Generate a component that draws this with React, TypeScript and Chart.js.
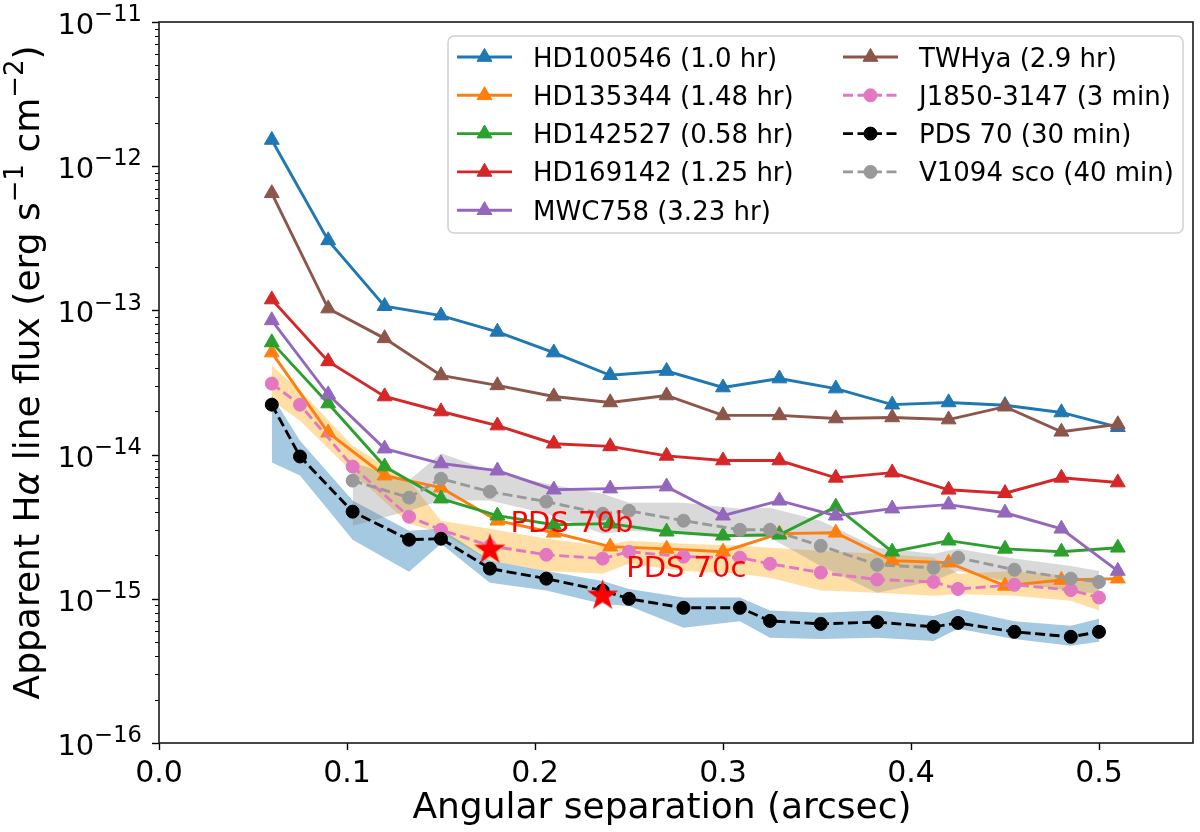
import { useEffect, useRef } from "react"
import { Chart, registerables } from "chart.js"

Chart.register(...registerables)

// Triangle-marked disks share the same separations (arcsec)
const sepDisk = [0.06, 0.09, 0.12, 0.15, 0.18, 0.21, 0.24, 0.27, 0.3, 0.33, 0.36, 0.39, 0.42, 0.45, 0.48, 0.51]
const fluxHD100546 = [1.52e-12, 3.06e-13, 1.07e-13, 9.2e-14, 7.1e-14, 5.1e-14, 3.55e-14, 3.8e-14, 2.92e-14, 3.37e-14, 2.87e-14, 2.22e-14, 2.3e-14, 2.2e-14, 1.96e-14, 1.55e-14]
const fluxHD135344 = [5.1e-14, 1.42e-14, 7.15e-15, 5.9e-15, 3.48e-15, 2.87e-15, 2.3e-15, 2.22e-15, 2.12e-15, 2.83e-15, 2.87e-15, 1.84e-15, 1.78e-15, 1.23e-15, 1.35e-15, 1.38e-15]
const fluxHD142527 = [6.0e-14, 2.26e-14, 8.26e-15, 4.95e-15, 3.77e-15, 3.26e-15, 3.32e-15, 2.92e-15, 2.74e-15, 2.78e-15, 4.35e-15, 2.12e-15, 2.53e-15, 2.22e-15, 2.12e-15, 2.26e-15]
const fluxHD169142 = [1.19e-13, 4.43e-14, 2.53e-14, 1.99e-14, 1.59e-14, 1.19e-14, 1.14e-14, 9.8e-15, 9.1e-15, 9.1e-15, 6.9e-15, 7.5e-15, 5.7e-15, 5.4e-15, 6.9e-15, 6.4e-15]
const fluxMWC758 = [8.53e-14, 2.61e-14, 1.1e-14, 8.67e-15, 7.74e-15, 5.71e-15, 5.81e-15, 6.0e-15, 3.77e-15, 4.79e-15, 3.77e-15, 4.22e-15, 4.5e-15, 3.95e-15, 3.06e-15, 1.56e-15]
const fluxTWHya = [6.49e-13, 1.03e-13, 6.4e-14, 3.54e-14, 3.02e-14, 2.53e-14, 2.3e-14, 2.57e-14, 1.87e-14, 1.87e-14, 1.78e-14, 1.81e-14, 1.75e-14, 2.15e-14, 1.44e-14, 1.62e-14]

// Circle-marked (short exposure) targets
const sepSdi = [0.06, 0.075, 0.103, 0.133, 0.15, 0.176, 0.206, 0.236, 0.25, 0.279, 0.309, 0.325, 0.352, 0.382, 0.412, 0.425, 0.455, 0.485, 0.5]
const fluxJ1850 = [3.11e-14, 2.22e-14, 8.26e-15, 3.71e-15, 3.01e-15, 2.33e-15, 2.02e-15, 1.9e-15, 2.12e-15, 1.96e-15, 1.93e-15, 1.75e-15, 1.52e-15, 1.36e-15, 1.31e-15, 1.17e-15, 1.25e-15, 1.15e-15, 1.02e-15]
const fluxJ1850Hi = [4.15e-14, 2.78e-14, 1.15e-14, 6.6e-15, 3.48e-15, 3.06e-15, 2.61e-15, 2.33e-15, 2.53e-15, 2.41e-15, 2.33e-15, 2.26e-15, 2.15e-15, 2.05e-15, 1.93e-15, 1.49e-15, 1.56e-15, 1.44e-15, 1.23e-15]
const fluxJ1850Lo = [2.37e-14, 1.72e-14, 7.5e-15, 3.32e-15, 2.87e-15, 1.84e-15, 1.56e-15, 1.49e-15, 1.75e-15, 1.56e-15, 1.49e-15, 1.4e-15, 1.14e-15, 1.1e-15, 1.05e-15, 1.08e-15, 1.05e-15, 9.7e-16, 8.3e-16]
const fluxPDS70 = [2.22e-14, 9.7e-15, 4.02e-15, 2.57e-15, 2.61e-15, 1.62e-15, 1.38e-15, 1.14e-15, 1.0e-15, 8.66e-16, 8.66e-16, 7.03e-16, 6.7e-16, 6.9e-16, 6.39e-16, 6.8e-16, 5.9e-16, 5.45e-16, 5.9e-16]
const fluxPDS70Hi = [2.57e-14, 1.25e-14, 4.8e-15, 2.97e-15, 3.06e-15, 1.84e-15, 1.56e-15, 1.33e-15, 1.17e-15, 1.02e-15, 1.02e-15, 8.3e-16, 8.0e-16, 8.3e-16, 7.6e-16, 8.5e-16, 7.0e-16, 6.5e-16, 7.26e-16]
const fluxPDS70Lo = [8.8e-15, 7.15e-15, 2.57e-15, 1.54e-15, 2.41e-15, 1.29e-15, 1.14e-15, 9.2e-16, 8.9e-16, 6.3e-16, 7.0e-16, 5.36e-16, 5.27e-16, 5.36e-16, 5.1e-16, 6.2e-16, 5.27e-16, 4.72e-16, 5.03e-16]
const sepV1094 = [0.103, 0.133, 0.15, 0.176, 0.206, 0.236, 0.25, 0.279, 0.309, 0.325, 0.352, 0.382, 0.412, 0.425, 0.455, 0.485, 0.5]
const fluxV1094 = [6.6e-15, 5.03e-15, 6.8e-15, 5.53e-15, 4.72e-15, 3.89e-15, 4.08e-15, 3.48e-15, 3.01e-15, 3.01e-15, 2.33e-15, 1.72e-15, 1.64e-15, 1.93e-15, 1.59e-15, 1.38e-15, 1.31e-15]
const fluxV1094Hi = [8.8e-15, 6.6e-15, 1.02e-14, 7.74e-15, 6.29e-15, 5.36e-15, 4.64e-15, 4.64e-15, 4.22e-15, 4.28e-15, 3.48e-15, 2.26e-15, 2.05e-15, 2.22e-15, 1.9e-15, 1.69e-15, 1.56e-15]
const fluxV1094Lo = [3.21e-15, 4.08e-15, 4.8e-15, 4.8e-15, 3.89e-15, 2.83e-15, 2.97e-15, 2.83e-15, 2.74e-15, 2.65e-15, 1.69e-15, 1.1e-15, 1.33e-15, 1.56e-15, 1.29e-15, 1.14e-15, 1.08e-15]

// PDS 70 planets
const planetNames = ["PDS 70b", "PDS 70c"]
const planetSep = [0.176, 0.236]
const planetFlux = [2.19e-15, 1.05e-15]

const xTickValues = [0, 0.1, 0.2, 0.3, 0.4, 0.5]
const yDecades = [-16, -15, -14, -13, -12, -11]

const FONT = '"DejaVu Sans", sans-serif'

type Marker = "triangle" | "circle"

interface Series {
  label: string
  sep: number[]
  flux: number[]
  color: string
  marker: Marker
  dashed: boolean
}

const series: Series[] = [
  { label: "HD100546 (1.0 hr)", sep: sepDisk, flux: fluxHD100546, color: "#1f77b4", marker: "triangle", dashed: false },
  { label: "HD135344 (1.48 hr)", sep: sepDisk, flux: fluxHD135344, color: "#ff7f0e", marker: "triangle", dashed: false },
  { label: "HD142527 (0.58 hr)", sep: sepDisk, flux: fluxHD142527, color: "#2ca02c", marker: "triangle", dashed: false },
  { label: "HD169142 (1.25 hr)", sep: sepDisk, flux: fluxHD169142, color: "#d62728", marker: "triangle", dashed: false },
  { label: "MWC758 (3.23 hr)", sep: sepDisk, flux: fluxMWC758, color: "#9467bd", marker: "triangle", dashed: false },
  { label: "TWHya (2.9 hr)", sep: sepDisk, flux: fluxTWHya, color: "#8c564b", marker: "triangle", dashed: false },
  { label: "J1850-3147 (3 min)", sep: sepSdi, flux: fluxJ1850, color: "#e377c2", marker: "circle", dashed: true },
  { label: "PDS 70 (30 min)", sep: sepSdi, flux: fluxPDS70, color: "#000000", marker: "circle", dashed: true },
  { label: "V1094 sco (40 min)", sep: sepV1094, flux: fluxV1094, color: "#999999", marker: "circle", dashed: true },
]

const bands = [
  { sep: sepSdi, hi: fluxJ1850Hi, lo: fluxJ1850Lo, color: "rgba(255,170,20,0.38)" },
  { sep: sepSdi, hi: fluxPDS70Hi, lo: fluxPDS70Lo, color: "rgba(31,119,180,0.4)" },
  { sep: sepV1094, hi: fluxV1094Hi, lo: fluxV1094Lo, color: "rgba(128,128,128,0.3)" },
]

const LINE_W = 2.9
const DASH = [10, 4.5]
const TRI_R = 8.6
const CIRC_R = 6.5

const toPoints = (xs: number[], ys: number[]) => xs.map((x, i) => ({ x, y: ys[i] }))

function makeStar(R: number, color: string) {
  const c = document.createElement("canvas")
  const s = Math.ceil(R * 2 + 2)
  c.width = s
  c.height = s
  const g = c.getContext("2d")!
  g.fillStyle = color
  g.beginPath()
  for (let i = 0; i < 10; i++) {
    const r = i % 2 === 0 ? R : R * 0.382
    const a = -Math.PI / 2 + (i * Math.PI) / 5
    const px = s / 2 + r * Math.cos(a)
    const py = s / 2 + r * Math.sin(a)
    if (i === 0) g.moveTo(px, py)
    else g.lineTo(px, py)
  }
  g.closePath()
  g.fill()
  return c
}

type Run = { t: string; sup?: boolean; it?: boolean }

function setFont(ctx: CanvasRenderingContext2D, run: Run, size: number, supScale: number) {
  const s = run.sup ? size * supScale : size
  ctx.font = `${run.it ? "italic " : ""}${s}px ${FONT}`
}

function drawRuns(
  ctx: CanvasRenderingContext2D,
  runs: Run[],
  x: number,
  y: number,
  size: number,
  align: "left" | "center" | "right",
  supScale = 0.72
) {
  let total = 0
  runs.forEach((r) => {
    setFont(ctx, r, size, supScale)
    total += ctx.measureText(r.t).width
  })
  let cx = align === "left" ? x : align === "center" ? x - total / 2 : x - total
  ctx.textAlign = "left"
  ctx.textBaseline = "alphabetic"
  runs.forEach((r) => {
    setFont(ctx, r, size, supScale)
    ctx.fillText(r.t, cx, r.sup ? y - size * 0.44 : y)
    cx += ctx.measureText(r.t).width
  })
}

function drawMarker(ctx: CanvasRenderingContext2D, kind: Marker, x: number, y: number, color: string) {
  ctx.fillStyle = color
  ctx.strokeStyle = color
  ctx.lineWidth = 1
  ctx.setLineDash([])
  ctx.beginPath()
  if (kind === "triangle") {
    for (let i = 0; i < 3; i++) {
      const a = (i * 2 * Math.PI) / 3
      const px = x + Math.sin(a) * TRI_R
      const py = y - Math.cos(a) * TRI_R
      if (i === 0) ctx.moveTo(px, py)
      else ctx.lineTo(px, py)
    }
    ctx.closePath()
  } else {
    ctx.arc(x, y, CIRC_R, 0, Math.PI * 2)
  }
  ctx.fill()
  ctx.stroke()
}

const decorPlugin = {
  id: "decor",
  afterDraw(chart: Chart) {
    const { ctx, chartArea: a } = chart
    const xs = chart.scales.x
    const ys = chart.scales.y
    ctx.save()

    // tick marks
    ctx.strokeStyle = "#000"
    ctx.setLineDash([])
    ctx.lineWidth = 1.4
    xTickValues.forEach((v) => {
      const px = Math.round(xs.getPixelForValue(v)) + 0.5
      ctx.beginPath()
      ctx.moveTo(px, a.bottom)
      ctx.lineTo(px, a.bottom + 7)
      ctx.stroke()
    })
    yDecades.forEach((e, i) => {
      const py = Math.round(ys.getPixelForValue(Math.pow(10, e))) + 0.5
      ctx.lineWidth = 1.4
      ctx.beginPath()
      ctx.moveTo(a.left - 7, py)
      ctx.lineTo(a.left, py)
      ctx.stroke()
      if (i < yDecades.length - 1) {
        ctx.lineWidth = 1
        for (let m = 2; m <= 9; m++) {
          const pm = Math.round(ys.getPixelForValue(m * Math.pow(10, e))) + 0.5
          ctx.beginPath()
          ctx.moveTo(a.left - 4, pm)
          ctx.lineTo(a.left, pm)
          ctx.stroke()
        }
      }
    })

    // spines
    ctx.lineWidth = 1.6
    ctx.strokeStyle = "#1a1a1a"
    ctx.strokeRect(a.left, a.top, a.right - a.left, a.bottom - a.top)

    // tick labels
    ctx.fillStyle = "#000"
    ctx.font = `30px ${FONT}`
    ctx.textAlign = "center"
    ctx.textBaseline = "alphabetic"
    xTickValues.forEach((v) => {
      ctx.fillText(v.toFixed(1), xs.getPixelForValue(v), a.bottom + 39)
    })
    yDecades.forEach((e) => {
      const py = ys.getPixelForValue(Math.pow(10, e))
      drawRuns(ctx, [{ t: "10" }, { t: "\u2212" + String(-e), sup: true }], a.left - 17, py + 12, 29, "right", 0.78)
    })

    // axis titles
    drawRuns(ctx, [{ t: "Angular separation (arcsec)" }], (a.left + a.right) / 2 - 14, a.bottom + 75, 36, "center")
    ctx.save()
    ctx.translate(39, (a.top + a.bottom) / 2 - 10)
    ctx.rotate(-Math.PI / 2)
    drawRuns(
      ctx,
      [
        { t: "Apparent H" },
        { t: "\u03b1", it: true },
        { t: " line flux (erg s" },
        { t: "\u22121", sup: true },
        { t: " cm" },
        { t: "\u22122", sup: true },
        { t: ")" },
      ],
      0,
      0,
      36,
      "center"
    )
    ctx.restore()

    // planet annotations
    ctx.fillStyle = "#ff0000"
    ctx.font = `29px ${FONT}`
    ctx.textAlign = "left"
    ctx.fillText(planetNames[0], xs.getPixelForValue(0.187), ys.getPixelForValue(2.9e-15))
    ctx.fillText(planetNames[1], xs.getPixelForValue(0.2485), ys.getPixelForValue(1.42e-15))

    // legend (two columns, filled column by column)
    const lx = a.right - 745
    const ly = a.top + 14
    ctx.beginPath()
    ctx.roundRect(lx, ly, 735, 197, 6)
    ctx.fillStyle = "rgba(255,255,255,0.8)"
    ctx.fill()
    ctx.strokeStyle = "rgba(204,204,204,0.9)"
    ctx.lineWidth = 1.5
    ctx.stroke()
    series.forEach((s, i) => {
      const col = i < 5 ? 0 : 1
      const row = i < 5 ? i : i - 5
      const x0 = lx + 9 + col * 386
      const y0 = ly + 21 + row * 38.3
      ctx.strokeStyle = s.color
      ctx.lineWidth = LINE_W
      ctx.setLineDash(s.dashed ? DASH : [])
      ctx.beginPath()
      ctx.moveTo(x0, y0)
      ctx.lineTo(x0 + 55, y0)
      ctx.stroke()
      drawMarker(ctx, s.marker, x0 + 27.5, y0, s.color)
      ctx.fillStyle = "#000"
      ctx.font = `26px ${FONT}`
      ctx.textAlign = "left"
      ctx.fillText(s.label, x0 + 76, y0 + 9.5)
    })

    ctx.restore()
  },
}

export default function App() {
  const canvasRef = useRef<HTMLCanvasElement | null>(null)

  useEffect(() => {
    if (!canvasRef.current) return
    const ctx = canvasRef.current.getContext("2d")
    if (!ctx) return

    const datasets: any[] = []
    let order = 100

    bands.forEach((b) => {
      datasets.push({
        data: toPoints(b.sep, b.hi),
        borderColor: "transparent",
        borderWidth: 0,
        pointRadius: 0,
        backgroundColor: b.color,
        fill: "+1",
        order: order--,
      })
      datasets.push({
        data: toPoints(b.sep, b.lo),
        borderColor: "transparent",
        borderWidth: 0,
        pointRadius: 0,
        fill: false,
        order: order--,
      })
    })

    series.forEach((s) => {
      datasets.push({
        label: s.label,
        data: toPoints(s.sep, s.flux),
        borderColor: s.color,
        backgroundColor: s.color,
        borderWidth: LINE_W,
        borderDash: s.dashed ? DASH : [],
        pointStyle: s.marker,
        pointRadius: s.marker === "triangle" ? TRI_R : CIRC_R,
        pointBackgroundColor: s.color,
        pointBorderColor: s.color,
        pointBorderWidth: 1,
        fill: false,
        order: order--,
      })
    })

    datasets.push({
      label: "planets",
      data: toPoints(planetSep, planetFlux),
      showLine: false,
      pointStyle: makeStar(16.5, "#ff0000"),
      pointRadius: 16,
      fill: false,
      order: order--,
    })

    const chart = new Chart(ctx, {
      type: "line",
      data: { datasets },
      options: {
        responsive: false,
        animation: false,
        layout: { autoPadding: false, padding: { left: 159, right: 7, top: 22, bottom: 89 } },
        scales: {
          x: { type: "linear", min: 0, max: 0.55, display: false },
          y: { type: "logarithmic", min: 1e-16, max: 1e-11, display: false },
        },
        plugins: {
          legend: { display: false },
          tooltip: { enabled: false },
          filler: { drawTime: "beforeDatasetsDraw" },
        },
        events: [],
      },
      plugins: [decorPlugin],
    })

    return () => {
      chart.destroy()
    }
  }, [])

  return (
    <div style={{ position: "fixed", left: 0, top: 0, width: 1200, height: 832, background: "#fff" }}>
      <canvas ref={canvasRef} width={1200} height={832} style={{ display: "block", width: 1200, height: 832 }} />
    </div>
  )
}
